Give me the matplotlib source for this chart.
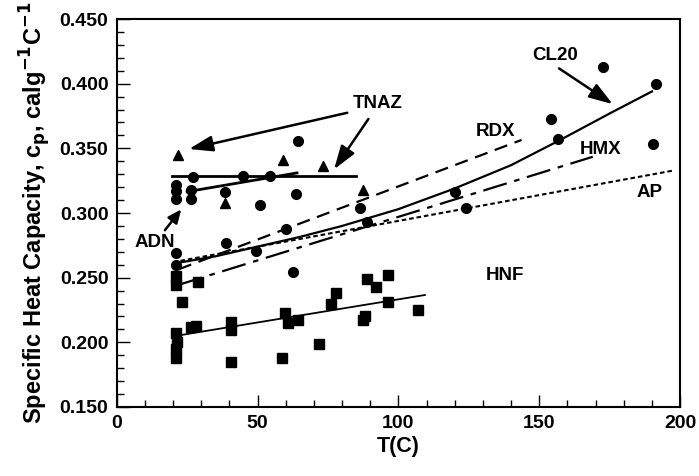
import matplotlib.pyplot as plt
from matplotlib.ticker import MultipleLocator

plt.rcParams['font.family'] = ['Liberation Sans', 'DejaVu Sans']
plt.rcParams['font.weight'] = 'bold'

# measured points, T in C and cp in cal/g/C
circle_t = [21.2, 21.2, 21.2, 26.5, 26.5, 26.9, 38.4, 44.9, 54.4, 50.8, 64.4, 63.6,
            86.3, 38.7, 21.0, 62.5, 60.0, 49.6, 88.7, 120.0, 124.0, 154.1, 156.8,
            172.5, 191.5, 190.5, 21.0]
circle_cp = [0.322, 0.317, 0.311, 0.318, 0.311, 0.328, 0.3165, 0.329, 0.329, 0.306,
             0.356, 0.3145, 0.304, 0.2766, 0.269, 0.2546, 0.288, 0.271, 0.293, 0.316,
             0.304, 0.3725, 0.357, 0.413, 0.400, 0.353, 0.260]

square_t = [21.0, 21.0, 28.9, 23.3, 20.9, 21.5, 20.9, 20.9, 26.5, 28.0, 40.7, 40.7,
            40.7, 59.7, 60.9, 64.4, 58.8, 71.9, 76.2, 78.0, 88.7, 92.2, 96.4, 96.4,
            88.1, 87.5, 107.0]
square_cp = [0.251, 0.244, 0.247, 0.231, 0.207, 0.200, 0.195, 0.188, 0.212, 0.2125,
             0.216, 0.2095, 0.185, 0.2225, 0.2147, 0.217, 0.1876, 0.1985, 0.230, 0.238,
             0.2488, 0.243, 0.252, 0.2314, 0.220, 0.217, 0.225]

triangle_t = [21.8, 59.1, 73.3, 38.4, 87.5]
triangle_cp = [0.345, 0.341, 0.336, 0.3075, 0.318]

# fitted lines
tnaz_t, tnaz_cp = [19.5, 85.0], [0.329, 0.329]
adn_t, adn_cp = [25.0, 64.0], [0.3165, 0.331]
cl20_t = [20.5, 35.0, 50.0, 65.0, 80.0, 100.0, 120.0, 140.0, 157.0, 175.0, 190.0]
cl20_cp = [0.261, 0.2665, 0.274, 0.2815, 0.290, 0.303, 0.319, 0.337, 0.356, 0.377, 0.394]
rdx_t, rdx_cp = [22.0, 143.7], [0.2565, 0.3565]
hmx_t, hmx_cp = [22.0, 169.0], [0.2445, 0.3435]
ap_t, ap_cp = [20.0, 198.0], [0.262, 0.333]
hnf_t, hnf_cp = [23.0, 109.4], [0.2057, 0.2366]

fig = plt.figure(figsize=(6.99, 4.76), dpi=100)
ax = fig.add_axes([0.167, 0.145, 0.806, 0.815])

ax.plot(tnaz_t, tnaz_cp, color='black', lw=2.0)
ax.plot(adn_t, adn_cp, color='black', lw=2.0)
ax.plot(cl20_t, cl20_cp, color='black', lw=1.6)
ax.plot(rdx_t, rdx_cp, color='black', lw=1.6, dashes=(6, 3.5))
ax.plot(hmx_t, hmx_cp, color='black', lw=1.6, dashes=(11, 3.5, 2.5, 3.5))
ax.plot(ap_t, ap_cp, color='black', lw=1.5, dashes=(2.2, 1.4))
ax.plot(hnf_t, hnf_cp, color='black', lw=1.3)

ax.plot(circle_t, circle_cp, 'o', color='black', ms=7, ls='none')
ax.plot(square_t, square_cp, 's', color='black', ms=7, ls='none')
ax.plot(triangle_t, triangle_cp, '^', color='black', ms=7, ls='none')

arrow = dict(arrowstyle='-|>,head_length=0.9,head_width=0.3', color='black', lw=1.8,
             mutation_scale=16)
short_arrow = dict(arrowstyle='-|>,head_length=0.5,head_width=0.22', color='black', lw=1.8,
                   mutation_scale=16)
ax.annotate('', xy=(24.7, 0.349), xytext=(82.8, 0.378), arrowprops=arrow)
ax.annotate('', xy=(76.6, 0.332), xytext=(89.9, 0.3745), arrowprops=arrow)
ax.annotate('', xy=(23.5, 0.3045), xytext=(16.5, 0.2850), arrowprops=short_arrow)
ax.annotate('', xy=(176.9, 0.383), xytext=(156.2, 0.413), arrowprops=arrow)

txt = dict(fontsize=13.5, fontweight='bold', ha='center', va='center')
ax.text(92.7, 0.385, 'TNAZ', **txt)
ax.text(13.5, 0.277, 'ADN', **txt)
ax.text(155.6, 0.4215, 'CL20', **txt)
ax.text(134.3, 0.3627, 'RDX', **txt)
ax.text(171.6, 0.3488, 'HMX', **txt)
ax.text(189.3, 0.3155, 'AP', **txt)
ax.text(137.8, 0.2513, 'HNF', **txt)

ax.set_xlim(0, 200)
ax.set_ylim(0.150, 0.450)
ax.xaxis.set_major_locator(MultipleLocator(50))
ax.xaxis.set_minor_locator(MultipleLocator(10))
ax.yaxis.set_major_locator(MultipleLocator(0.05))
ax.yaxis.set_minor_locator(MultipleLocator(0.01))
ax.yaxis.set_major_formatter(plt.FormatStrFormatter('%.3f'))
ax.tick_params(which='both', direction='in', labelsize=14)
ax.tick_params(which='major', length=9, width=1.0, pad=6)
ax.tick_params(which='minor', length=5, width=1.0)
for lab in ax.get_xticklabels() + ax.get_yticklabels():
    lab.set_fontweight('bold')
for s in ax.spines.values():
    s.set_linewidth(1.5)

ax.set_xlabel('T(C)', fontsize=15.5, fontweight='bold', labelpad=3)
ax.set_ylabel('Specific Heat Capacity, c$_\\mathbf{p}$, calg$^\\mathbf{-1}$C$^\\mathbf{-1}$',
              fontsize=17, fontweight='bold', labelpad=5)

fig.savefig('out.png', dpi=100)
